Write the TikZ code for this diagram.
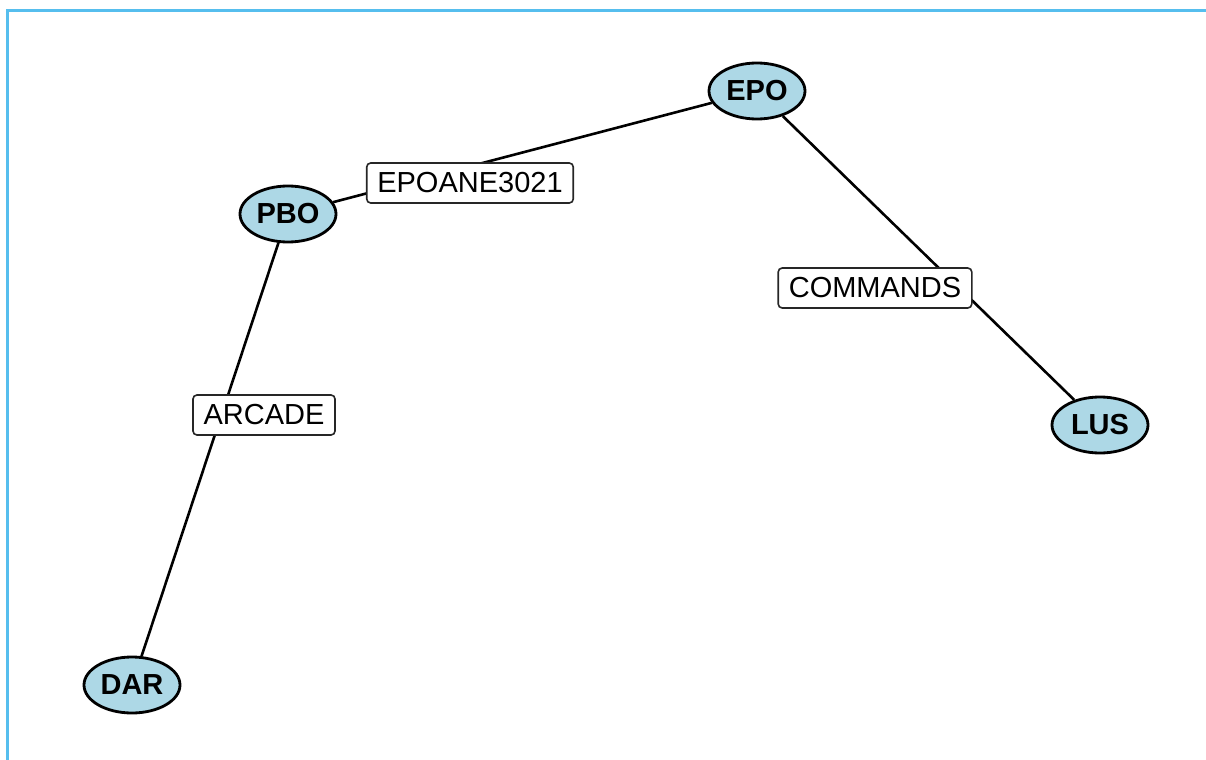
\documentclass[tikz,border=0pt]{standalone}
\usepackage{fontspec}
\setmainfont{Liberation Sans}
\usepackage{tikz}
\usetikzlibrary{shapes.geometric}
\definecolor{siteblue}{RGB}{173,216,230}
\definecolor{framecol}{RGB}{86,190,238}

\begin{document}
\begin{tikzpicture}[x=0.5pt,y=-0.5pt,
  site/.style={ellipse,draw,line width=1.4pt,fill=siteblue,
    minimum width=48pt,minimum height=28pt,inner sep=0pt,
    font=\fontsize{14.5}{16}\selectfont\bfseries},
  tag/.style={draw=black!85,line width=0.8pt,fill=white,rounded corners=2pt,
    inner xsep=5.3pt,inner ysep=0pt,minimum height=20pt,
    font=\fontsize{14.5}{17}\selectfont},
  link/.style={line width=1.3pt}]
  \useasboundingbox (0,0) rectangle (1206,760);
  % Frame
  \draw[framecol,line width=1.5pt] (7,760) -- (7,10.7) -- (1206,10.7);
  % Sites
  \node[site] (epo) at (757,91) {EPO};
  \node[site] (pbo) at (288,214) {PBO};
  \node[site] (lus) at (1100,425) {LUS};
  \node[site] (dar) at (132,685) {DAR};
  % Links
  \draw[link] (pbo) -- (epo);
  \draw[link] (epo) -- (lus);
  \draw[link] (pbo) -- (dar);
  % Link labels
  \node[tag] (epoane) at (470,183) {EPOANE3021};
  \node[tag] (commands) at (875,288) {COMMANDS};
  \node[tag] (arcade) at (264,415) {ARCADE};
\end{tikzpicture}
\end{document}
